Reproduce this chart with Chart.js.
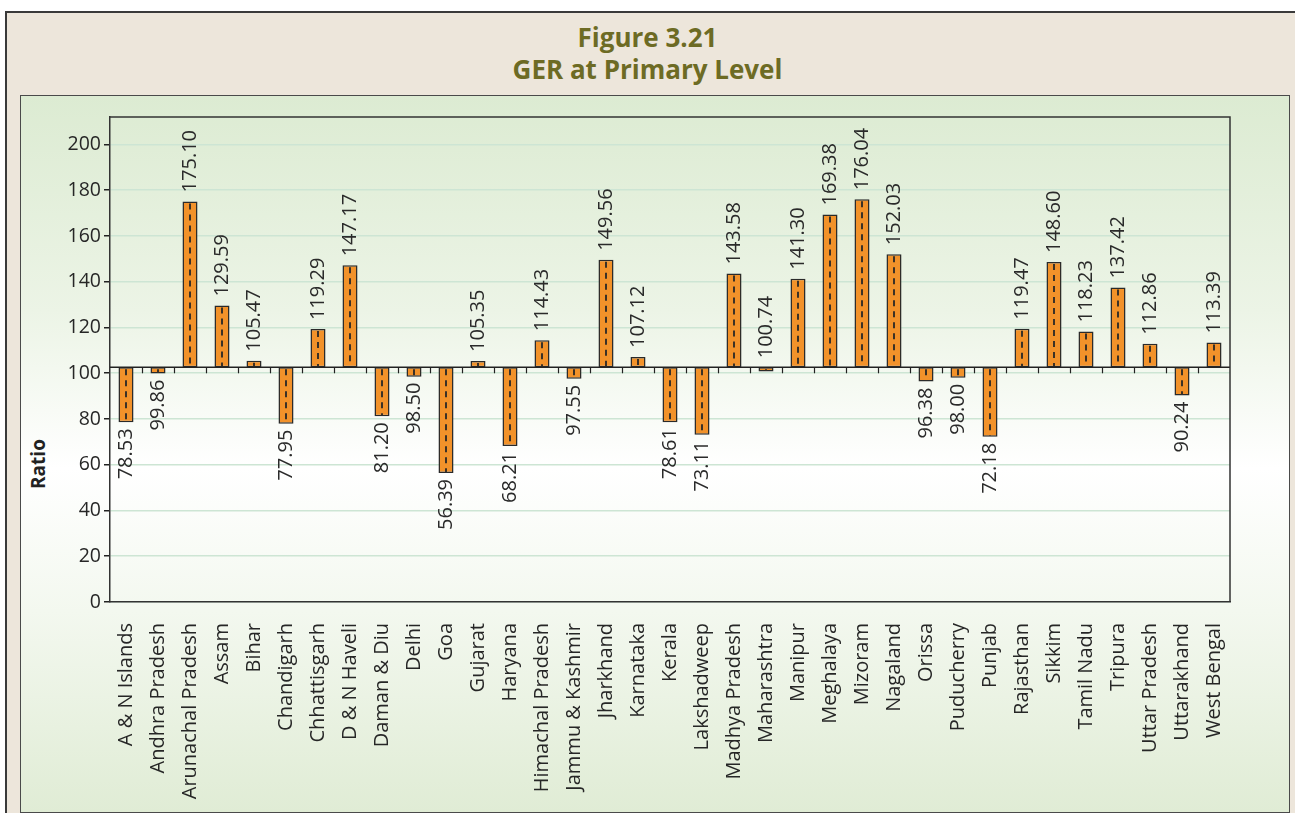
<!DOCTYPE html>
<html><head><meta charset="utf-8">
<script src="https://cdn.jsdelivr.net/npm/chart.js@4.4.0/dist/chart.umd.min.js"></script>
<style>
html,body{margin:0;padding:0;background:#fff;width:1295px;height:813px;overflow:hidden;position:relative;font-family:"Open Sans",sans-serif}
#outer{position:absolute;left:5px;top:11px;width:1300px;height:810px;background:#ede6db;border-top:2px solid #3a3a3a;border-left:2px solid #3a3a3a}
#panel{position:absolute;left:20px;top:95px;width:1268px;height:716px;border:1.5px solid #4a4a4a;background:linear-gradient(to bottom,#dcebd2 0%,#ecf4e6 30%,#ffffff 52%,#f3f8ef 72%,#e0ecd5 100%)}
#title{position:absolute;left:0;width:1295px;top:21px;text-align:center;color:#6d6b24;font-weight:bold;font-size:26px;line-height:32px}
#ytitle{position:absolute;left:38px;top:464px;transform:translate(-50%,-50%) rotate(-90deg);font-weight:bold;font-size:19px;color:#222;white-space:nowrap}
canvas{position:absolute;left:0;top:0}
</style></head>
<body>
<div id="outer"></div><div id="panel"></div>
<div id="title">Figure 3.21<br>GER at Primary Level</div>
<div id="ytitle">Ratio</div>
<canvas id="c" width="1295" height="813"></canvas>
<script>
const categories = ["A & N Islands","Andhra Pradesh","Arunachal Pradesh","Assam","Bihar","Chandigarh","Chhattisgarh","D & N Haveli","Daman & Diu","Delhi","Goa","Gujarat","Haryana","Himachal Pradesh","Jammu & Kashmir","Jharkhand","Karnataka","Kerala","Lakshadweep","Madhya Pradesh","Maharashtra","Manipur","Meghalaya","Mizoram","Nagaland","Orissa","Puducherry","Punjab","Rajasthan","Sikkim","Tamil Nadu","Tripura","Uttar Pradesh","Uttarakhand","West Bengal"];
const gerValues = [78.53,99.86,175.10,129.59,105.47,77.95,119.29,147.17,81.20,98.50,56.39,105.35,68.21,114.43,97.55,149.56,107.12,78.61,73.11,143.58,100.74,141.30,169.38,176.04,152.03,96.38,98.00,72.18,119.47,148.60,118.23,137.42,112.86,90.24,113.39];
const baseline = 102.6;
const yTicks = [0,20,40,60,80,100,120,140,160,180,200];
const yMin = 0, yMax = 212;

const decor = {
  id:'decor',
  afterDatasetsDraw(chart){
    const ctx = chart.ctx, ca = chart.chartArea;
    const ys = chart.scales.y;
    const meta = chart.getDatasetMeta(0);
    const yb = ys.getPixelForValue(baseline);
    ctx.save();
    // dashed centre lines
    ctx.strokeStyle = '#3b3126'; ctx.lineWidth = 2; ctx.setLineDash([6,5]);
    meta.data.forEach(bar=>{
      const t = Math.min(bar.y, bar.base), b = Math.max(bar.y, bar.base);
      if (b - t < 4) return;
      ctx.beginPath(); ctx.moveTo(bar.x, t+2); ctx.lineTo(bar.x, b-1); ctx.stroke();
    });
    ctx.setLineDash([]);
    // baseline axis with ticks
    ctx.strokeStyle = '#222'; ctx.lineWidth = 1.5;
    ctx.beginPath(); ctx.moveTo(ca.left, yb); ctx.lineTo(ca.right, yb); ctx.stroke();
    const n = categories.length, w = (ca.right - ca.left)/n;
    ctx.lineWidth = 1.2;
    for (let i=1;i<n;i++){
      const x = Math.round(ca.left + i*w)+0.5;
      ctx.beginPath(); ctx.moveTo(x, yb); ctx.lineTo(x, yb+6); ctx.stroke();
    }
    // frame top and right
    ctx.strokeStyle = '#333'; ctx.lineWidth = 1.5;
    ctx.beginPath(); ctx.moveTo(ca.left, ca.top); ctx.lineTo(ca.right, ca.top); ctx.lineTo(ca.right, ca.bottom); ctx.stroke();
    // value labels
    ctx.fillStyle = '#2a2a2a'; ctx.font = '20px "Open Sans", sans-serif'; ctx.textBaseline = 'middle';
    meta.data.forEach((bar,i)=>{
      const v = gerValues[i];
      const top = Math.min(bar.y, bar.base, yb), bottom = Math.max(bar.y, bar.base, yb);
      ctx.save();
      if (v >= 100){
        ctx.translate(bar.x, top - 9);
        ctx.rotate(-Math.PI/2); ctx.textAlign = 'left';
      } else {
        ctx.translate(bar.x, bottom + 6);
        ctx.rotate(-Math.PI/2); ctx.textAlign = 'right';
      }
      ctx.fillText(v.toFixed(2), 0, 0);
      ctx.restore();
    });
    ctx.restore();
  }
};

new Chart(document.getElementById('c'), {
  type:'bar',
  data:{
    labels: categories,
    datasets:[{
      data: gerValues.map(v=>[baseline, v]),
      backgroundColor:'#f2922a',
      borderColor:'#2a2a2a',
      borderWidth:1.5,
      borderSkipped:false,
      barPercentage:0.47,
      categoryPercentage:1
    }]
  },
  options:{
    responsive:false, animation:false, devicePixelRatio:1,
    layout:{padding:{left:0,right:65,top:117,bottom:0}},
    plugins:{legend:{display:false}, tooltip:{enabled:false}, title:{display:false}},
    scales:{
      x:{
        afterFit(s){ s.height = 211; },
        grid:{display:false},
        border:{display:true,color:'#333',width:1.5},
        ticks:{font:{family:'"Open Sans", sans-serif',size:20},color:'#262626',minRotation:90,maxRotation:90,padding:13,autoSkip:false}
      },
      y:{
        min:yMin, max:yMax,
        afterFit(s){ s.width = 110; },
        afterBuildTicks(s){ s.ticks = yTicks.map(v=>({value:v})); },
        grid:{color:'#cde5d4',lineWidth:1.5,tickColor:'#222',tickLength:6},
        border:{color:'#333',width:1.5},
        ticks:{font:{family:'"Open Sans", sans-serif',size:19.5},color:'#262626',padding:3}
      }
    }
  },
  plugins:[decor]
});
</script>
</body></html>
